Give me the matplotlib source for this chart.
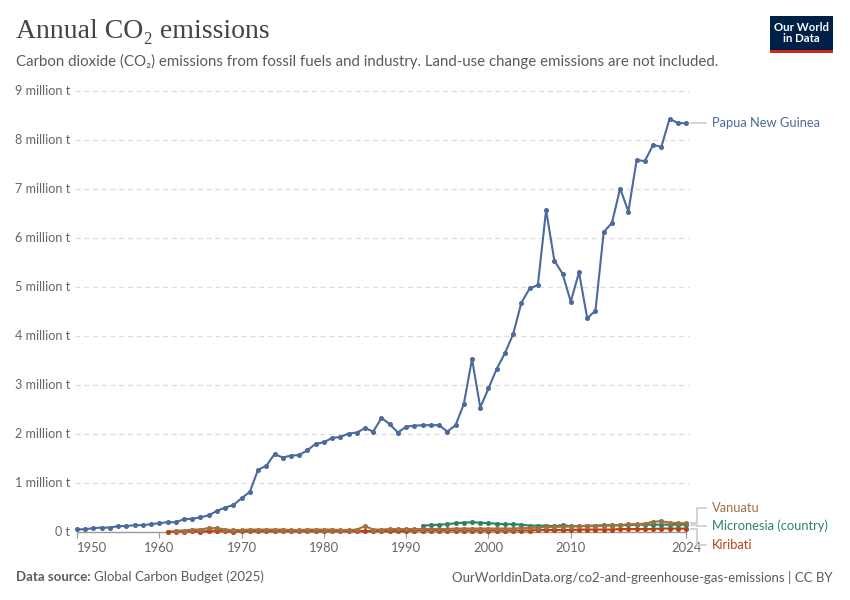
import matplotlib
matplotlib.use("Agg")
import matplotlib.pyplot as plt
from matplotlib.patches import Rectangle
from matplotlib.lines import Line2D
import numpy as np

plt.rcParams['font.family'] = ['Lato', 'DejaVu Sans']

# ---------------- data (million tonnes CO2) ----------------
png_years = list(range(1950, 2025))
png_values = [0.055, 0.055, 0.08, 0.09, 0.09, 0.12, 0.12, 0.14, 0.14, 0.16,
              0.18, 0.20, 0.20, 0.26, 0.27, 0.30, 0.34, 0.43, 0.50, 0.55,
              0.69, 0.82, 1.27, 1.35, 1.59, 1.52, 1.56, 1.57, 1.67, 1.80,
              1.83, 1.92, 1.94, 2.01, 2.03, 2.12, 2.05, 2.33, 2.20, 2.03,
              2.15, 2.17, 2.18, 2.18, 2.18, 2.05, 2.18, 2.61, 3.53, 2.54,
              2.93, 3.33, 3.65, 4.04, 4.68, 4.97, 5.04, 6.57, 5.54, 5.27,
              4.70, 5.30, 4.36, 4.52, 6.12, 6.31, 7.01, 6.54, 7.59, 7.57,
              7.90, 7.86, 8.43, 8.35, 8.34]

van_years = list(range(1962, 2025))
van_values = [0.03, 0.03, 0.05, 0.05, 0.08, 0.08, 0.05, 0.04, 0.04, 0.05,
              0.05, 0.05, 0.05, 0.05, 0.04, 0.04, 0.05, 0.05, 0.05, 0.05,
              0.04, 0.04, 0.05, 0.12, 0.05, 0.05, 0.06, 0.06, 0.06, 0.06,
              0.06, 0.06, 0.06, 0.06, 0.07, 0.07, 0.07, 0.07, 0.07, 0.07,
              0.07, 0.07, 0.08, 0.08, 0.09, 0.10, 0.10, 0.11, 0.11, 0.12,
              0.12, 0.12, 0.13, 0.13, 0.14, 0.16, 0.16, 0.17, 0.21, 0.22,
              0.19, 0.18, 0.18]

fsm_years = list(range(1992, 2025))
fsm_values = [0.13, 0.14, 0.15, 0.16, 0.18, 0.19, 0.20, 0.19, 0.18, 0.17,
              0.16, 0.16, 0.15, 0.13, 0.13, 0.13, 0.12, 0.14, 0.12, 0.12,
              0.13, 0.13, 0.14, 0.14, 0.14, 0.14, 0.15, 0.15, 0.15, 0.15,
              0.15, 0.15, 0.15]

kir_years = list(range(1961, 2025))
kir_values = [0.01, 0.01, 0.01, 0.02, 0.01, 0.02, 0.03, 0.02, 0.01, 0.02,
              0.02, 0.02, 0.02, 0.02, 0.02, 0.02, 0.02, 0.02, 0.02, 0.02,
              0.02, 0.02, 0.02, 0.02, 0.02, 0.02, 0.02, 0.02, 0.02, 0.02,
              0.03, 0.03, 0.03, 0.03, 0.03, 0.03, 0.03, 0.03, 0.03, 0.03,
              0.03, 0.03, 0.03, 0.03, 0.03, 0.04, 0.04, 0.04, 0.04, 0.04,
              0.05, 0.05, 0.05, 0.05, 0.05, 0.06, 0.06, 0.06, 0.06, 0.06,
              0.07, 0.07, 0.07, 0.07]

series_names = ["Papua New Guinea", "Vanuatu", "Micronesia (country)", "Kiribati"]
series_colors = ["#4C6A9C", "#A2713F", "#2C8465", "#BE3F12"]

y_ticks = [0, 1, 2, 3, 4, 5, 6, 7, 8, 9]
y_tick_labels = ["0 t"] + [f"{v} million t" for v in y_ticks[1:]]
x_ticks = [1950, 1960, 1970, 1980, 1990, 2000, 2010, 2024]
x_tick_labels = ["1950", "1960", "1970", "1980", "1990", "2000", "2010", "2024"]

# ---------------- figure ----------------
W, H = 850, 600
fig = plt.figure(figsize=(W / 100, H / 100), dpi=100)
fig.patch.set_facecolor("white")

def fx(px):
    return px / W

def fy(py):
    return 1 - py / H

ax_l, ax_r, ax_t, ax_b = 77, 686, 91, 532
ax = fig.add_axes([fx(ax_l), fy(ax_b), (ax_r - ax_l) / W, (ax_b - ax_t) / H])
ax.set_xlim(1950, 2024)
ax.set_ylim(0, 9)

for s in ax.spines.values():
    s.set_visible(False)
ax.spines['bottom'].set_visible(True)
ax.spines['bottom'].set_color("#999999")
ax.spines['bottom'].set_linewidth(1)

ax.set_yticks(y_ticks)
ax.set_yticklabels([])
ax.tick_params(axis='y', length=0)
for v in y_ticks[1:]:
    ax.axhline(v, color="#dddddd", lw=0.9, ls=(0, (4, 3)), zorder=0, clip_on=False,
               xmin=-2 / (ax_r - ax_l), xmax=1 + 3 / (ax_r - ax_l))

for v, lab in zip(y_ticks, y_tick_labels):
    ypx = ax_b - (ax_b - ax_t) * v / 9
    fig.text(fx(70), fy(ypx), lab, ha="right", va="center", fontsize=9.1, color="#666666")

ax.set_xticks(x_ticks)
ax.set_xticklabels(x_tick_labels, fontsize=9.4, color="#666666")
ax.tick_params(axis='x', length=4, color="#999999", pad=3)
lbls = ax.get_xticklabels()
lbls[0].set_horizontalalignment("left")

all_years = [png_years, van_years, fsm_years, kir_years]
all_values = [png_values, van_values, fsm_values, kir_values]
order = [3, 2, 1, 0]
for i in order:
    ax.plot(all_years[i], all_values[i], color=series_colors[i], lw=1.5,
            marker="o", ms=2.6, clip_on=False, zorder=3 + (i == 0))

# ---------------- line labels ----------------
fig.canvas.draw()
def data_to_px(x, y):
    X, Y = ax.transData.transform((x, y))
    return X, H - Y

lab_x = 712
lab_fs = 9.3
_, py = data_to_px(2024, png_values[-1])
fig.add_artist(Line2D([fx(691), fx(706)], [fy(py), fy(py)], color="#cccccc", lw=1.2))
fig.text(fx(lab_x), fy(py), series_names[0], color=series_colors[0], fontsize=lab_fs,
         va="center", ha="left")

lab_ys = [508, 526, 545]
small_idx = [1, 2, 3]
for idx, ly in zip(small_idx, lab_ys):
    _, dy = data_to_px(2024, all_values[idx][-1])
    xs = [fx(691), fx(697), fx(697), fx(706)]
    ys = [fy(dy), fy(dy), fy(ly), fy(ly)]
    fig.add_artist(Line2D(xs, ys, color="#cccccc", lw=1.2))
    fig.text(fx(lab_x), fy(ly), series_names[idx], color=series_colors[idx], fontsize=lab_fs,
             va="center", ha="left")

# ---------------- header ----------------
fig.text(fx(16), fy(32), "Annual CO\u2082 emissions", fontsize=20, color="#444444",
         family=["Liberation Serif", "DejaVu Serif"], va="center", ha="left")
fig.text(fx(16), fy(61),
         "Carbon dioxide (CO\u2082) emissions from fossil fuels and industry. Land-use change emissions are not included.",
         fontsize=10.8, color="#5b5b5b", va="center", ha="left")

# logo
fig.add_artist(Rectangle((fx(770), fy(50)), fx(63), (50 - 16) / H, transform=fig.transFigure,
                         facecolor="#002147", edgecolor="none"))
fig.add_artist(Rectangle((fx(770), fy(53)), fx(63), 3 / H, transform=fig.transFigure,
                         facecolor="#CE261E", edgecolor="none"))
fig.text(fx(801.5), fy(33), "Our World\nin Data", color="white", fontsize=8.2, fontweight="bold",
         ha="center", va="center", linespacing=1.05)

# ---------------- footer ----------------
foot_fs = 9.5
t1 = fig.text(fx(16), fy(577), "Data source:", fontsize=foot_fs, color="#5b5b5b",
              fontweight="bold", va="center", ha="left")
fig.canvas.draw()
bb = t1.get_window_extent()
fig.text(bb.x1 / W + fx(3), fy(577), "Global Carbon Budget (2025)", fontsize=foot_fs,
         color="#5b5b5b", va="center", ha="left")
fig.text(fx(833), fy(577), "OurWorldinData.org/co2-and-greenhouse-gas-emissions | CC BY",
         fontsize=foot_fs, color="#5b5b5b", va="center", ha="right")

fig.savefig("out.png", dpi=100, facecolor="white")
